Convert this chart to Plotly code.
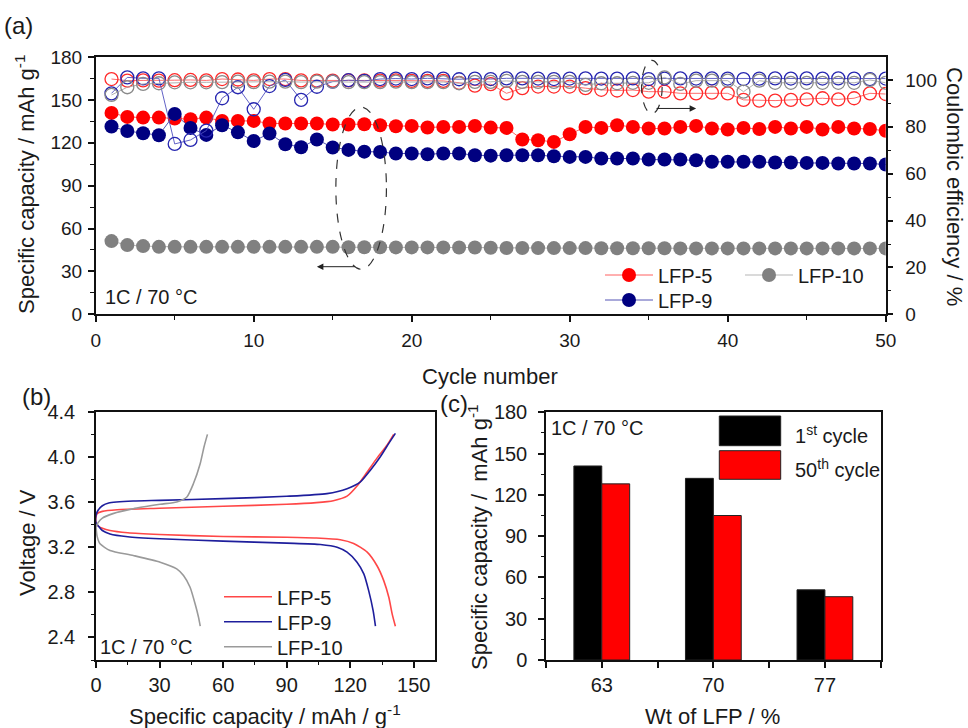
import plotly.graph_objects as go

W, H = 968, 728
def PX(p):
    return p / W
def PY(p):
    return 1 - p / H

FONT = "Liberation Sans, Arial, sans-serif"
TXT = "#1a1a1a"

# ---------------- data: panel (a) ----------------
cycles = list(range(1, 51))
cap_lfp5 = [140.9, 138.1, 137.6, 137.6, 137.0, 136.5, 137.6, 135.3, 135.3, 135.3,
            133.5, 133.5, 133.5, 133.5, 132.8, 132.8, 133.0, 132.3, 131.6, 131.8,
            130.7, 131.1, 131.1, 131.8, 130.6, 130.4, 122.3, 121.8, 120.6, 126.0,
            131.1, 130.4, 132.3, 131.1, 130.0, 130.0, 131.1, 131.8, 130.0, 129.3,
            130.4, 129.6, 131.1, 130.0, 131.1, 129.3, 131.1, 130.0, 129.6, 128.4]
cap_lfp9 = [131.4, 128.2, 126.7, 125.3, 140.2, 130.4, 125.5, 132.3, 127.3, 121.2,
            126.5, 119.0, 116.9, 122.3, 116.7, 115.0, 113.8, 113.6, 112.5, 112.5,
            112.0, 112.5, 112.5, 111.3, 111.0, 111.3, 111.3, 111.3, 110.6, 110.1,
            110.1, 109.0, 109.0, 109.0, 108.3, 108.3, 108.3, 107.8, 106.7, 106.7,
            106.7, 106.7, 106.2, 106.2, 105.9, 105.9, 105.5, 105.5, 105.5, 104.8]
cap_lfp10 = [51.2, 48.4, 47.7, 47.2, 47.2, 47.2, 47.2, 47.2, 47.2, 47.2,
             47.2, 47.2, 47.2, 47.2, 47.2, 46.9, 46.9, 46.9, 46.8, 46.8,
             46.8, 46.8, 46.7, 46.7, 46.6, 46.4, 46.4, 46.3, 46.3, 46.3,
             46.3, 46.2, 46.2, 46.2, 46.2, 46.2, 46.1, 46.1, 46.1, 46.1,
             46.1, 46.1, 46.1, 46.1, 46.1, 46.1, 46.1, 46.1, 46.1, 46.1]
ce_lfp5 = [100.4, 99.7, 99.8, 99.7, 99.9, 100.0, 99.8, 100.4, 100.2, 99.8,
           100.4, 100.4, 99.8, 99.7, 99.7, 99.8, 99.8, 99.7, 99.8, 99.6,
           99.6, 99.6, 98.8, 97.6, 98.2, 94.3, 96.5, 97.2, 97.2, 97.2,
           96.5, 95.8, 95.5, 95.7, 95.0, 95.0, 94.3, 94.3, 94.6, 94.3,
           91.5, 91.2, 91.2, 91.5, 91.7, 92.2, 91.7, 92.2, 94.3, 94.0]
ce_lfp9 = [94.3, 101.1, 100.7, 100.7, 72.7, 74.4, 78.4, 92.2, 96.9, 87.5,
           97.4, 100.0, 91.5, 97.1, 99.3, 99.9, 99.6, 100.4, 100.6, 100.4,
           100.7, 100.6, 100.3, 100.6, 100.4, 100.7, 100.7, 100.6, 100.4, 100.6,
           100.7, 100.6, 100.6, 100.7, 100.4, 100.6, 100.7, 100.6, 100.7, 100.6,
           100.4, 100.6, 100.7, 100.6, 100.7, 100.6, 100.7, 100.6, 100.4, 100.6]
ce_lfp10 = [93.6, 96.9, 98.3, 98.6, 99.0, 99.0, 99.0, 99.1, 99.3, 99.1,
            99.3, 99.3, 99.1, 99.3, 99.3, 99.1, 99.1, 99.1, 99.3, 99.1,
            99.1, 99.1, 98.6, 99.2, 99.2, 99.6, 99.2, 99.2, 99.2, 99.2,
            97.9, 98.6, 98.6, 98.8, 98.8, 101.1, 98.3, 99.7, 99.7, 99.7,
            95.0, 99.7, 98.8, 98.8, 98.8, 98.8, 98.8, 98.8, 100.0, 98.8]

# ---------------- data: panel (b) ----------------
lfp5_chg_cap = [0, 0.5, 3, 10, 30, 60, 90, 104, 112, 118.5, 123.2, 128, 132.7, 137.4, 140.5]
lfp5_chg_v = [3.47, 3.50, 3.52, 3.535, 3.548, 3.565, 3.583, 3.598, 3.615, 3.655, 3.745, 3.87, 3.995, 4.11, 4.204]
lfp5_dis_cap = [0, 1, 3, 6.6, 15, 30, 60, 90, 104, 115.3, 121.6, 128, 132.7, 135.8, 138.2, 139.8, 141.3]
lfp5_dis_v = [3.42, 3.39, 3.37, 3.35, 3.33, 3.315, 3.297, 3.29, 3.283, 3.268, 3.235, 3.158, 3.035, 2.905, 2.757, 2.608, 2.50]
lfp9_chg_cap = [0, 1, 3, 6, 17.6, 30, 60, 90, 109, 118.5, 124.8, 129.5, 134.2, 138.2, 141.3]
lfp9_chg_v = [3.485, 3.53, 3.57, 3.595, 3.612, 3.618, 3.633, 3.654, 3.678, 3.722, 3.782, 3.886, 4.005, 4.124, 4.213]
lfp9_dis_cap = [0, 1.1, 3, 6.6, 15, 30, 60, 90, 105.9, 113.8, 118.5, 123.2, 126.4, 128.7, 130.8, 131.9]
lfp9_dis_v = [3.42, 3.39, 3.35, 3.32, 3.295, 3.277, 3.256, 3.238, 3.226, 3.202, 3.158, 3.069, 2.965, 2.816, 2.638, 2.50]
lfp10_chg_cap = [0, 1, 3, 8, 17.6, 30.3, 38.1, 42.9, 46, 49.2, 51, 52.6]
lfp10_chg_v = [3.38, 3.42, 3.46, 3.50, 3.544, 3.583, 3.604, 3.648, 3.767, 3.945, 4.094, 4.204]
lfp10_dis_cap = [0, 0.5, 1.9, 6.6, 17.6, 30.3, 38.1, 41.3, 44.4, 46.8, 48.4, 49.2]
lfp10_dis_v = [3.38, 3.30, 3.232, 3.173, 3.128, 3.069, 3.009, 2.95, 2.846, 2.697, 2.578, 2.50]

# ---------------- data: panel (c) ----------------
wt_categories = ["63", "70", "77"]
cap_1st_cycle = [141, 132, 51]
cap_50th_cycle = [128, 105, 46]

fig = go.Figure()

# ---- (a) coulombic efficiency (open circles, right axis) ----
open_specs = [(ce_lfp5, "#FF2A2A", "#FF5A5A"), (ce_lfp9, "#2626B0", "#5050C0"), (ce_lfp10, "#8A8A8A", "#A8A8A8")]
for ce, mc, lc in open_specs:
    fig.add_trace(go.Scatter(
        x=cycles, y=ce, xaxis="x", yaxis="y2", mode="lines+markers",
        marker=dict(symbol="circle-open", size=13, color=mc, line=dict(width=1.3)),
        line=dict(width=0.9, color=lc), showlegend=False, hoverinfo="skip"))

# ---- (a) capacities (filled circles, left axis) ----
fill_specs = [("LFP-5", cap_lfp5, "#FF0000", "#FF6060", "legend"),
              ("LFP-9", cap_lfp9, "#000080", "#5555B5", "legend2"),
              ("LFP-10", cap_lfp10, "#808080", "#B5B5B5", "legend3")]
for name, cap, mc, lc, lg in fill_specs:
    fig.add_trace(go.Scatter(
        x=cycles, y=cap, xaxis="x", yaxis="y", mode="lines+markers", name=name,
        marker=dict(symbol="circle", size=14, color=mc, line=dict(width=0)),
        line=dict(width=1, color=lc), legend=lg))

# ---- (b) charge/discharge curves ----
b_specs = [("LFP-5", lfp5_dis_cap, lfp5_dis_v, lfp5_chg_cap, lfp5_chg_v, "#FF4747", "legend4"),
           ("LFP-9", lfp9_dis_cap, lfp9_dis_v, lfp9_chg_cap, lfp9_chg_v, "#1E1E9C", "legend5"),
           ("LFP-10", lfp10_dis_cap, lfp10_dis_v, lfp10_chg_cap, lfp10_chg_v, "#9A9A9A", "legend6")]
for name, dc, dv, cc, cv, col, lg in b_specs:
    fig.add_trace(go.Scatter(
        x=dc[::-1] + cc, y=dv[::-1] + cv, xaxis="x2", yaxis="y3", mode="lines",
        name=name, line=dict(width=1.6, color=col, shape="spline", smoothing=0.6),
        legend=lg))

# ---- (c) bars ----
xpos = list(range(len(wt_categories)))
fig.add_trace(go.Bar(x=xpos, y=cap_1st_cycle, xaxis="x3", yaxis="y4", name="1st cycle",
                     marker=dict(color="#000000", line=dict(color="#222222", width=1)),
                     showlegend=False))
fig.add_trace(go.Bar(x=xpos, y=cap_50th_cycle, xaxis="x3", yaxis="y4", name="50th cycle",
                     marker=dict(color="#FF0000", line=dict(color="#222222", width=1)),
                     showlegend=False))

tickfont_a = dict(family=FONT, size=19, color=TXT)
tickfont_bc = dict(family=FONT, size=20, color=TXT)
axcommon = dict(showline=True, linecolor="#111111", linewidth=1.5, ticks="outside",
                ticklen=6, tickwidth=1.5, tickcolor="#111111", showgrid=False,
                zeroline=False, automargin=False)
minor_kw = dict(ticks="outside", ticklen=3.5, tickwidth=1.2, tickcolor="#111111", showgrid=False)

dom_a_x = [PX(95.7), PX(885.7)]
dom_a_y = [PY(314.3), PY(57)]
dom_b_x = [PX(96), PX(435)]
dom_c_x = [PX(546), PX(880.7)]
dom_bc_y = [PY(660), PY(412.3)]

fig.update_layout(
    template="none",
    width=W, height=H, margin=dict(l=0, r=0, t=0, b=0, autoexpand=False),
    paper_bgcolor="white", plot_bgcolor="white",
    barmode="group", bargap=0.5, bargroupgap=0,
    font=dict(family=FONT, color=TXT),
    xaxis=dict(domain=dom_a_x, anchor="y", range=[0, 50], dtick=10, mirror=True,
               tickfont=tickfont_a, ticklabelstandoff=2,
               minor=dict(dtick=5, **minor_kw), **axcommon),
    yaxis=dict(domain=dom_a_y, anchor="x", range=[0, 180], dtick=30, tickfont=tickfont_a,
               ticklabelstandoff=2, minor=dict(dtick=15, **minor_kw), **axcommon),
    yaxis2=dict(overlaying="y", side="right", anchor="x", range=[0, 109.8], dtick=20,
                tickfont=tickfont_a, ticklabelstandoff=8,
                minor=dict(dtick=10, **minor_kw), **axcommon),
    xaxis2=dict(domain=dom_b_x, anchor="y3", range=[0, 160], dtick=30, mirror=True,
                tickfont=tickfont_bc, minor=dict(dtick=15, **minor_kw), **axcommon),
    yaxis3=dict(domain=dom_bc_y, anchor="x2", range=[2.2, 4.4], tick0=2.4, dtick=0.4,
                mirror=True, tickformat=".1f", tickfont=tickfont_bc, ticklabelstandoff=9,
                minor=dict(dtick=0.2, **minor_kw), **axcommon),
    xaxis3=dict(domain=dom_c_x, anchor="y4", range=[-0.5, 2.5], mirror=True,
                tickvals=[-0.5, 0, 0.5, 1, 1.5, 2, 2.5],
                ticktext=["", wt_categories[0], "", wt_categories[1], "", wt_categories[2], ""],
                tickfont=tickfont_bc, **axcommon),
    yaxis4=dict(domain=dom_bc_y, anchor="x3", range=[0, 180], dtick=30, mirror=True,
                tickfont=tickfont_bc, ticklabelstandoff=7,
                minor=dict(dtick=15, **minor_kw), **axcommon),
)

legfont = dict(family=FONT, size=20, color=TXT)
def leg(xp, yp, iw):
    return dict(x=PX(xp), y=PY(yp), xref="paper", yref="paper", xanchor="left",
                yanchor="middle", bgcolor="rgba(0,0,0,0)", borderwidth=0,
                font=legfont, itemwidth=iw, tracegroupgap=0)

fig.update_layout(
    legend=leg(600, 275, 48),
    legend2=leg(600, 300, 48),
    legend3=leg(740, 275, 48),
    legend4=leg(219, 596.7, 48),
    legend5=leg(219, 621.7, 48),
    legend6=leg(219, 646.7, 48),
)

ann = []
def text(t, x, y, size=20, xanchor="left", yanchor="middle", angle=0):
    ann.append(dict(text=t, x=PX(x), y=PY(y), xref="paper", yref="paper",
                    xanchor=xanchor, yanchor=yanchor, showarrow=False, textangle=angle,
                    font=dict(family=FONT, size=size, color=TXT)))

text("(a)", 2, 26, size=24)
text("(b)", 20, 397, size=24)
text("(c)", 438, 403, size=24)
text("Specific capacity / mAh g<sup>-1</sup>", 25, 185, size=22, xanchor="center", angle=-90)
text("Coulombic efficiency / %", 955, 186, size=22, xanchor="center", angle=90)
text("Cycle number", 490, 376, size=22, xanchor="center")
text("Voltage / V", 27, 543, size=22, xanchor="center", angle=-90)
text("Specific capacity / mAh / g<sup>-1</sup>", 265, 715, size=22, xanchor="center")
text("Specific capacity /  mAh g<sup>-1</sup>", 478, 537, size=22, xanchor="center", angle=-90)
text("Wt of LFP / %", 712, 716, size=22, xanchor="center")
text("1C / 70 °C", 103, 297, size=20)
text("1C / 70 °C", 98, 647, size=20)
text("1C / 70 °C", 549, 428, size=20)
text("1<sup>st</sup> cycle", 793, 434, size=20)
text("50<sup>th</sup> cycle", 793, 468, size=20)

# arrows in panel (a)
ann.append(dict(x=14.0, y=33.3, ax=16.5, ay=33.3, xref="x", yref="y", axref="x", ayref="y",
                text="", showarrow=True, arrowhead=2, arrowsize=1.3, arrowwidth=1,
                arrowcolor="#222222"))
ann.append(dict(x=38.0, y=144, ax=35.4, ay=144, xref="x", yref="y", axref="x", ayref="y",
                text="", showarrow=True, arrowhead=2, arrowsize=1.3, arrowwidth=1,
                arrowcolor="#222222"))
fig.update_layout(annotations=ann)

shapes = [
    dict(type="circle", xref="x", yref="y", x0=15.2, x1=18.4, y0=31.5, y1=145,
         line=dict(color="#333333", width=1.2, dash="dash")),
    dict(type="circle", xref="x", yref="y", x0=34.55, x1=35.85, y0=140.5, y1=177.7,
         line=dict(color="#333333", width=1.2, dash="dash")),
    # legend swatches for panel (c)
    dict(type="rect", xref="paper", yref="paper", x0=PX(719.3), x1=PX(780.7),
         y0=PY(445.7), y1=PY(416), fillcolor="#000000", line=dict(color="#222222", width=1)),
    dict(type="rect", xref="paper", yref="paper", x0=PX(719.3), x1=PX(780.7),
         y0=PY(479.3), y1=PY(450.7), fillcolor="#FF0000", line=dict(color="#222222", width=1)),
]
fig.update_layout(shapes=shapes)

fig.write_html("out.html")
